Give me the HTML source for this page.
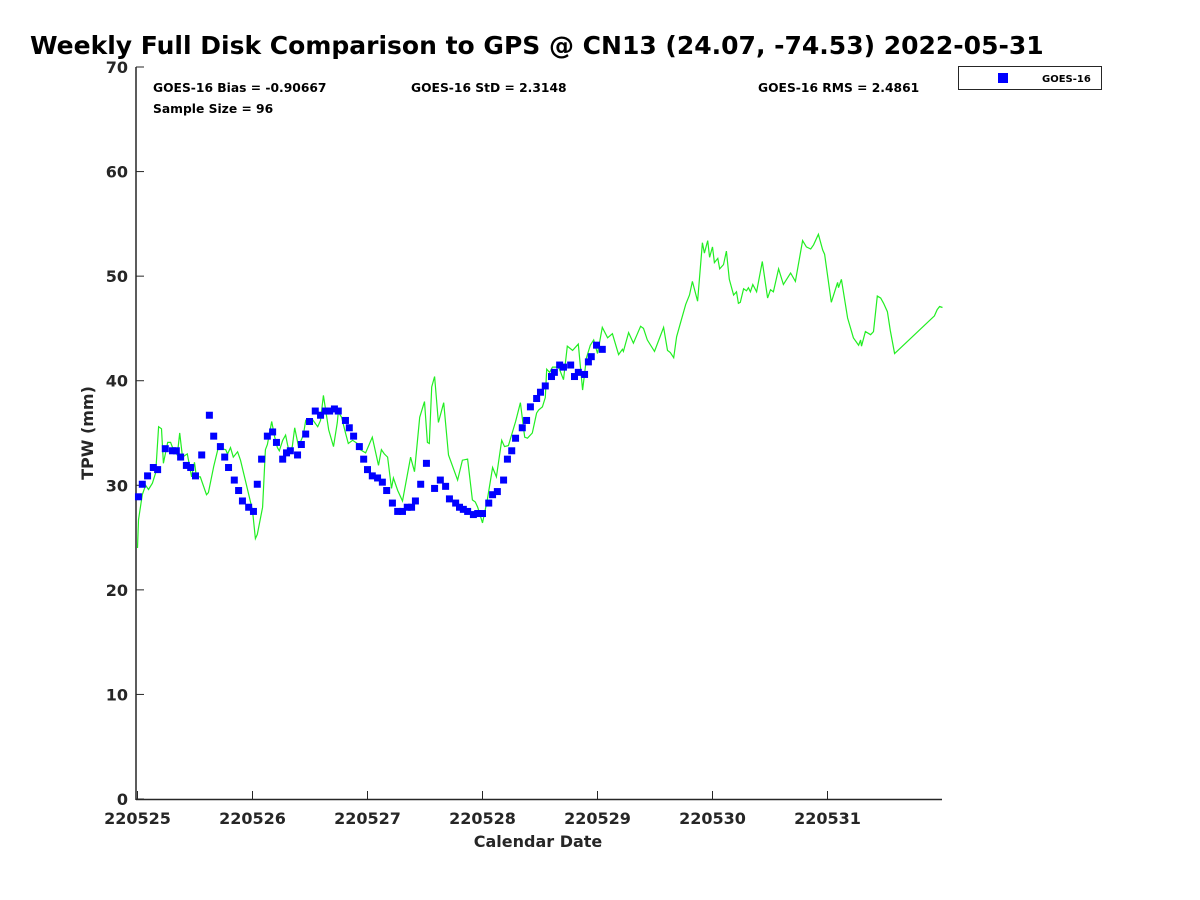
<!DOCTYPE html>
<html><head><meta charset="utf-8"><style>
html,body{margin:0;padding:0;background:#fff;}
svg{display:block;font-family:"DejaVu Sans","Liberation Sans",sans-serif;font-weight:bold;}
</style></head><body>
<svg id="chart" width="1200" height="900" viewBox="0 0 1200 900">
<text x="30" y="54" font-size="25" fill="#000">Weekly Full Disk Comparison to GPS @ CN13 (24.07, -74.53) 2022-05-31</text>
<text x="153" y="92" font-size="12.3">GOES-16 Bias = -0.90667</text>
<text x="153" y="113" font-size="12.3">Sample Size = 96</text>
<text x="411" y="92" font-size="12.3">GOES-16 StD = 2.3148</text>
<text x="758" y="92" font-size="12.3">GOES-16 RMS = 2.4861</text>
<g>
<rect x="958.5" y="66.5" width="143" height="23" fill="#fff" stroke="#262626"/>
<rect x="998" y="73" width="10" height="10" fill="#0000ff"/>
<text x="1042" y="82" font-size="10">GOES-16</text>
</g>
<g id="axes"></g>
<g id="marks"></g>
<text x="538" y="847" font-size="16" text-anchor="middle" fill="#262626">Calendar Date</text>
<text transform="translate(93,433) rotate(-90)" font-size="16" text-anchor="middle" fill="#262626">TPW (mm)</text>
</svg>
<script>
const xTickLabels = ["220525","220526","220527","220528","220529","220530","220531"];
const yTicks = [0,10,20,30,40,50,60,70];
const gpsHours = [0,0.2,1.0,1.7,2.3,3.1,3.8,4.4,5.0,5.4,6.3,6.9,7.5,8.3,8.8,9.4,10.4,11.3,11.9,12.3,13.1,14.4,14.8,15.9,16.9,17.5,18.4,18.8,19.4,20.0,20.9,21.5,22.5,24.0,24.6,25.0,26.1,26.7,27.1,28.0,28.6,29.2,29.6,30.3,30.9,31.3,31.7,32.3,32.8,33.6,34.6,35.1,35.7,36.5,37.6,38.2,38.8,39.9,40.9,41.7,41.9,42.6,43.4,44.0,44.9,45.9,46.5,47.6,49.0,50.3,50.9,51.5,52.2,53.0,53.4,54.3,55.3,57.0,57.8,58.9,59.9,60.5,60.9,61.4,62.0,62.8,63.9,64.9,66.8,67.8,68.9,69.9,70.5,71.0,72.0,73.0,74.1,74.9,76.0,76.6,77.4,78.9,79.9,80.8,81.4,82.4,83.3,83.7,84.5,85.1,85.4,86.0,86.6,87.9,88.9,89.7,90.8,92.0,92.9,93.7,94.5,95.2,96.0,97.0,98.1,99.1,100.4,101.2,101.4,102.5,103.5,105.0,105.6,106.4,107.9,109.8,110.6,111.2,111.9,112.5,113.3,114.4,115.2,115.8,116.9,117.9,118.3,119.0,119.4,120.0,120.4,121.1,121.5,122.3,122.9,123.5,124.4,125.0,125.4,125.8,126.5,127.1,127.5,127.9,128.4,129.2,130.4,131.5,132.1,132.7,133.8,134.8,136.3,137.3,138.8,139.6,140.5,141.1,142.1,143.0,143.4,144.8,146.1,146.3,146.9,148.2,149.4,150.5,150.9,151.1,151.9,153.0,153.6,154.4,155.1,155.7,156.5,157.1,158.0,166.3,166.9,167.4,168.0];
const gpsTpw = [24.0,26.7,29.1,30.0,29.6,30.2,31.2,35.6,35.4,32.1,34.1,34.1,33.4,32.9,35.0,32.7,33.0,30.8,32.2,30.8,30.8,29.1,29.3,31.8,33.7,33.5,33.4,33.0,33.6,32.7,33.2,32.4,30.5,27.6,24.9,25.3,27.9,33.4,33.9,36.1,34.7,33.6,33.3,34.3,34.8,33.9,33.1,33.7,35.5,33.7,34.8,36.2,35.9,36.3,35.6,36.2,38.6,35.3,33.7,36.0,37.0,36.5,35.0,34.0,34.3,34.0,33.4,33.1,34.6,31.9,33.4,33.0,32.7,29.7,30.7,29.5,28.5,32.7,31.3,36.5,38.0,34.1,34.0,39.4,40.4,36.0,37.9,32.9,30.5,32.4,32.5,28.6,28.4,27.9,26.4,28.6,31.7,30.8,34.3,33.7,33.8,36.1,37.9,34.6,34.5,35.0,36.9,37.2,37.5,38.4,41.1,40.8,41.3,41.3,40.1,43.3,42.9,43.5,39.1,42.2,43.4,43.9,42.6,45.1,44.1,44.5,42.5,43.0,42.8,44.6,43.6,45.2,45.0,43.9,42.8,45.1,42.9,42.7,42.2,44.2,45.5,47.3,48.2,49.5,47.6,53.2,52.2,53.4,51.8,52.8,51.3,51.7,50.7,51.1,52.4,49.7,48.2,48.5,47.4,47.5,48.8,48.6,48.9,48.5,49.2,48.5,51.4,47.9,48.7,48.5,50.7,49.2,50.3,49.5,53.4,52.8,52.6,53.0,54.0,52.5,52.1,47.5,49.4,48.9,49.7,46.0,44.1,43.4,43.9,43.3,44.7,44.4,44.7,48.1,47.9,47.4,46.6,44.8,42.6,46.2,46.8,47.1,47.0];
const goesHours = [0.2,1.0,2.1,3.3,4.2,5.8,7.3,8.1,9.0,10.2,11.1,12.1,13.4,15.0,15.9,17.3,18.2,19.0,20.2,21.1,21.9,23.2,24.2,25.0,25.9,27.1,28.2,29.0,30.3,31.1,31.9,33.4,34.2,35.1,35.9,37.1,38.2,39.2,40.1,41.1,41.9,43.4,44.2,45.1,46.3,47.2,48.0,49.0,50.1,51.1,52.0,53.2,54.3,55.3,56.3,57.2,58.0,59.1,60.3,62.0,63.2,64.3,65.1,66.4,67.2,68.0,68.9,70.1,71.0,72.0,73.3,74.1,75.1,76.4,77.2,78.1,78.9,80.3,81.2,82.0,83.3,84.1,85.1,86.4,87.0,88.1,88.9,90.4,91.2,92.0,93.3,94.1,94.7,95.8,97.0];
const goesTpw = [28.9,30.1,30.9,31.7,31.5,33.5,33.3,33.3,32.7,31.9,31.7,30.9,32.9,36.7,34.7,33.7,32.7,31.7,30.5,29.5,28.5,27.9,27.5,30.1,32.5,34.7,35.1,34.1,32.5,33.1,33.3,32.9,33.9,34.9,36.1,37.1,36.7,37.1,37.1,37.3,37.1,36.2,35.5,34.7,33.7,32.5,31.5,30.9,30.7,30.3,29.5,28.3,27.5,27.5,27.9,27.9,28.5,30.1,32.1,29.7,30.5,29.9,28.7,28.3,27.9,27.7,27.5,27.2,27.3,27.3,28.3,29.1,29.4,30.5,32.5,33.3,34.5,35.5,36.2,37.5,38.3,38.9,39.5,40.4,40.8,41.5,41.3,41.5,40.4,40.8,40.6,41.8,42.3,43.4,43.0];

const NS = "http://www.w3.org/2000/svg";
const X0 = 137.5, DAYPX = 115, Y0 = 799, YPX = 10.457;
function xScale(h){ return X0 + h/24*DAYPX; }
function yScale(v){ return Y0 - v*YPX; }
function mk(tag, attrs, parent){ const e=document.createElementNS(NS,tag); for(const k in attrs) e.setAttribute(k,attrs[k]); parent.appendChild(e); return e; }

const axes = document.getElementById('axes');
const marks = document.getElementById('marks');
const c = "#262626";
const xa = mk('line',{x1:136,y1:799.5,x2:942,y2:799.5,stroke:c,'stroke-width':1.5},axes);


const ya = mk('line',{x1:136,y1:67,x2:136,y2:800,stroke:c,'stroke-width':1.5},axes);


yTicks.forEach(v=>{
  const y=yScale(v);
  const t=mk('line',{x1:136,y1:y,x2:144,y2:y,stroke:c,'stroke-width':1},axes);
  
  
  const l=mk('text',{x:128,y:y+6,'font-size':16,'text-anchor':'end',fill:c},axes);
  
  
  l.textContent=v;
});
xTickLabels.forEach((s,i)=>{
  const x=xScale(i*24);
  const t=mk('line',{x1:x,y1:799,x2:x,y2:791,stroke:c,'stroke-width':1},axes);
  
  
  const l=mk('text',{x:x,y:824,'font-size':16,'text-anchor':'middle',fill:c},axes);
  
  
  l.textContent=s;
});
const pts = gpsHours.map((h,i)=>xScale(h).toFixed(1)+','+yScale(gpsTpw[i]).toFixed(1)).join(' ');
const pl = mk('polyline',{points:pts,fill:'none',stroke:'#22ee22','stroke-width':1.2},marks);


goesHours.forEach((h,i)=>{
  const r=mk('rect',{x:xScale(h)-3.5,y:yScale(goesTpw[i])-3.5,width:7,height:7,fill:'#0000ff'},marks);
  
  
});
</script>
</body></html>
